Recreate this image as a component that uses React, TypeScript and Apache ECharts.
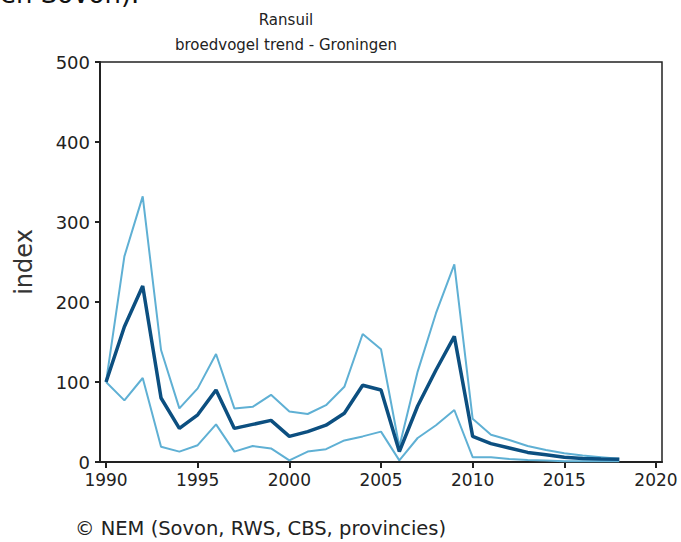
import React, { useEffect, useRef } from "react";
import * as echarts from "echarts";

const years = [1990, 1991, 1992, 1993, 1994, 1995, 1996, 1997, 1998, 1999, 2000, 2001, 2002, 2003, 2004, 2005, 2006, 2007, 2008, 2009, 2010, 2011, 2012, 2013, 2014, 2015, 2016, 2017, 2018];
const trend = [100, 169, 220, 80, 42, 59, 90, 42, 47, 52, 32, 38, 46, 61, 96, 90, 13, 70, 115, 157, 32, 23, 17.5, 12, 9, 6, 4.5, 3.7, 3.3];
const upper = [100, 257, 332, 140, 67, 92, 135, 67, 69, 84, 63, 60, 71, 94, 160, 141, 19, 113, 186, 247, 54, 34, 27.5, 20, 15, 11, 8, 6, 4];
const lower = [100, 77, 105, 19, 13, 21, 47, 13, 20, 17, 2, 13, 16, 27, 32, 38, 2, 30, 46, 65, 6, 6, 3.7, 2.5, 2, 1, 1, 1, 1];
const xTicks = [1990, 1995, 2000, 2005, 2010, 2015, 2020];
const titleLines = ["Ransuil", "broedvogel trend - Groningen"];
const footer = "\u00A9 NEM (Sovon, RWS, CBS, provincies)";
const topFragment = "en Sovon).";

const FONT = "DejaVu Sans";
const AXIS = "#222";
const DARK = "#0c4f80";
const LIGHT = "#5fb0d4";

export default function App() {
  const ref = useRef<HTMLDivElement>(null);
  useEffect(() => {
    if (!ref.current) return;
    const chart = echarts.init(ref.current, null, { renderer: "svg" });
    const pairs = (vals: number[]) => years.map((y, i) => [y, vals[i]]);
    chart.setOption({
      animation: false,
      backgroundColor: "#fff",
      grid: {
        left: 100, right: 19, top: 62, bottom: 80,
        outerBoundsMode: "none", containLabel: false,
        show: true, borderColor: AXIS, borderWidth: 1.5, backgroundColor: "transparent",
      },
      xAxis: {
        type: "value",
        min: 1989.67,
        max: 2020.33,
        splitLine: { show: false },
        axisLine: { show: true, lineStyle: { color: AXIS, width: 2 } },
        axisTick: { show: true, length: 6, lineStyle: { color: AXIS, width: 2 }, customValues: xTicks },
        axisLabel: { customValues: xTicks, color: AXIS, fontFamily: FONT, fontSize: 17, margin: 9, formatter: (v: number) => String(Math.round(v)) },
      },
      yAxis: {
        type: "value",
        min: 0,
        max: 500,
        interval: 100,
        name: "index",
        nameLocation: "middle",
        nameGap: 64,
        nameTextStyle: { color: "#333", fontFamily: FONT, fontSize: 24 },
        splitLine: { show: false },
        axisLine: { show: true, lineStyle: { color: AXIS, width: 2 } },
        axisTick: { show: true, length: 5, lineStyle: { color: AXIS, width: 2 } },
        axisLabel: { color: AXIS, fontFamily: FONT, fontSize: 18, margin: 10 },
      },
      graphic: [
        { type: "text", left: 0, top: -19, style: { text: topFragment, font: `26px "${FONT}"`, fill: "#111" } },
        { type: "text", x: 286, y: 20, style: { text: titleLines[0], font: `15px "${FONT}"`, fill: "#222", align: "center", verticalAlign: "middle" } },
        { type: "text", x: 286, y: 45, style: { text: titleLines[1], font: `15px "${FONT}"`, fill: "#222", align: "center", verticalAlign: "middle" } },
        { type: "text", x: 75, y: 528, style: { text: footer, font: `19.5px "${FONT}"`, fill: "#222", align: "left", verticalAlign: "middle" } },
      ],
      series: [
        { type: "line", data: pairs(upper), showSymbol: false, lineStyle: { color: LIGHT, width: 2 }, z: 2 },
        { type: "line", data: pairs(lower), showSymbol: false, lineStyle: { color: LIGHT, width: 2 }, z: 2 },
        { type: "line", data: pairs(trend), showSymbol: false, lineStyle: { color: DARK, width: 3.5 }, z: 3 },
      ],
    });
    return () => chart.dispose();
  }, []);
  return <div ref={ref} style={{ position: "fixed", left: 0, top: 0, width: 681, height: 542 }} />;
}
